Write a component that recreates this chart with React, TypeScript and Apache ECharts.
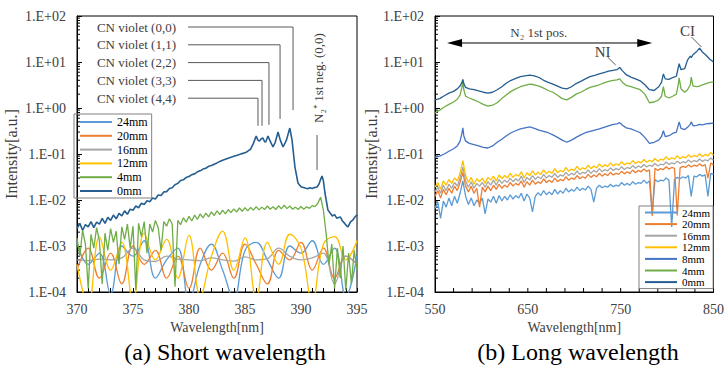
import React, { useEffect, useRef } from "react";
import * as echarts from "echarts";

// ---------- DATA ----------
const SHORT_LEGEND = ["24mm", "20mm", "16mm", "12mm", "4mm", "0mm"];
const LONG_LEGEND = ["24mm", "20mm", "16mm", "12mm", "8mm", "4mm", "0mm"];
const COLORS: Record<string, string> = {
  "24mm": "#5B9BD5",
  "20mm": "#ED7D31",
  "16mm": "#A5A5A5",
  "12mm": "#FFC000",
  "8mm": "#4472C4",
  "4mm": "#70AD47",
  "0mm": "#255E91",
};

const grid = (start: number, step: number, n: number) =>
  Array.from({ length: n }, (_, i) => +(start + i * step).toFixed(3));

// Short wavelength panel (a)
const SHORT_X_FINE = grid(370, 0.25, 101); // 370..395
const SHORT_X_SPARSE = grid(370, 1, 26); // 370..395
const SHORT_0MM_X = [
  ...grid(370, 0.25, 61),
  385.25, 385.5, 385.75, 386.0, 386.15, 386.3, 386.45, 386.6, 386.75, 386.85, 387.05, 387.25, 387.5, 387.7,
  387.95, 388.15, 388.4, 388.7, 389.0, 389.2, 389.46, 389.73, 390.0, 390.36, 390.6, 390.8, 391.0, 391.2,
  391.43, 391.6, 391.75, 391.88, 392.0, 392.14, 392.3, 392.4, 392.6, 392.8, 393.0, 393.2, 393.5, 393.7,
  393.9, 394.1, 394.2, 394.4, 394.64, 394.8, 395.0,
];
const SHORT_0MM = [
  0.0024, 0.0031, 0.0022, 0.0029, 0.0026, 0.0034, 0.0025, 0.0033, 0.003, 0.004, 0.0031, 0.0042, 0.0036, 0.0047,
  0.0039, 0.0051, 0.0045, 0.0058, 0.0049, 0.0063, 0.006, 0.0074, 0.0068, 0.0085, 0.008, 0.0096, 0.0092, 0.011,
  0.0105, 0.0128, 0.0125, 0.015, 0.0152, 0.0178, 0.0185, 0.0215, 0.023, 0.0265, 0.0275, 0.031, 0.0325, 0.0355,
  0.037, 0.041, 0.043, 0.047, 0.049, 0.054, 0.056, 0.06, 0.064, 0.069, 0.073, 0.077, 0.081, 0.085, 0.089, 0.093,
  0.097, 0.102, 0.106,
  0.115, 0.128, 0.17, 0.246, 0.2, 0.192, 0.215, 0.223, 0.185, 0.182, 0.246, 0.19, 0.142, 0.18,
  0.301, 0.2, 0.142, 0.2, 0.367, 0.2, 0.052, 0.0234, 0.0195, 0.0182, 0.0176, 0.0185, 0.0178, 0.0186,
  0.0192, 0.022, 0.028, 0.0333, 0.026, 0.0142, 0.0085, 0.0061, 0.0052, 0.0045, 0.0048, 0.004, 0.0043, 0.0035,
  0.0031, 0.0027, 0.0026, 0.0033, 0.0037, 0.0042, 0.0048,
];
const SHORT_4MM = [
  0.0015, 0.0006, 0.0022, 0.0011, 0.00012, 0.0018, 0.0009, 0.0025, 0.0013, 0.00015, 0.0019, 0.0008, 0.0024,
  0.0012, 0.0021, 0.0004, 0.0026, 0.0014, 0.003, 0.0009, 0.0027, 0.00011, 0.0031, 0.0016, 0.0034, 0.0007,
  0.003, 0.002, 0.0036, 0.0025, 0.0008, 0.0034, 0.0027, 0.0039, 0.003, 0.00013, 0.0036, 0.0029, 0.0041,
  0.0033, 0.0044, 0.0035, 0.0047, 0.0038, 0.005, 0.0041, 0.0052, 0.0043, 0.0055, 0.0046, 0.0058, 0.0048,
  0.006, 0.005, 0.0062, 0.0053, 0.0064, 0.0055, 0.0067, 0.0057, 0.0068, 0.0058, 0.0069, 0.006, 0.0072,
  0.0061, 0.007, 0.0062, 0.0074, 0.0063, 0.0071, 0.0062, 0.0075, 0.0064, 0.0077, 0.0065, 0.0074, 0.0063,
  0.007, 0.0062, 0.0072, 0.0063, 0.0071, 0.0066, 0.0075, 0.0072, 0.0085, 0.0115, 0.006, 0.0018, 0.0004,
  0.0011, 0.00012, 0.0009, 0.0002, 0.001, 0.00011, 0.0007, 0.00015, 0.0008, 0.0003,
];
const SHORT_12MM = [
  0.0004, 0.00005, 0.0016, 0.0003, 0.0012, 0.00006, 0.0019, 0.0005, 0.0014, 0.0002, 0.0017, 0.00008, 0.0006,
  0.0021, 0.0003, 0.0015, 0.00007, 0.0012, 0.0004, 0.0018, 0.0009, 0.00006, 0.0011, 0.0016, 0.0005, 0.0013,
];
const SHORT_20MM = [
  0.0003, 0.0009, 0.0002, 0.0007, 0.00015, 0.001, 0.0004, 0.0008, 0.0002, 0.0006, 0.00012, 0.0009, 0.0003,
  0.0007, 0.0002, 0.0011, 0.0004, 0.00015, 0.0008, 0.0005, 0.0012, 0.0003, 0.0009, 0.0002, 0.0006, 0.0004,
];
const SHORT_16MM = [
  0.0005, 0.00048, 0.00052, 0.0005, 0.00055, 0.0009, 0.0005, 0.00046, 0.0006, 0.00052, 0.0005, 0.00048,
  0.00055, 0.0005, 0.00047, 0.00058, 0.0005, 0.00053, 0.0009, 0.0006, 0.0005, 0.00055, 0.0007, 0.00015,
  0.0006, 0.0004,
];
const SHORT_24MM = [
  0.0012, 0.0004, 0.0007, 0.00009, 0.001, 0.0006, 0.0013, 0.0002, 0.0005, 0.0009, 0.00006, 0.0004, 0.0011,
  0.0003, 0.00007, 0.0008, 0.0012, 0.0005, 0.0002, 0.001, 0.0007, 0.0013, 0.0004, 0.0009, 0.00008, 0.0006,
];

// Long wavelength panel (b)
const LONG_X_NOISY = grid(550, 3, 101); // 550..850
const LONG_X_SMOOTH = [
  550, 555, 560, 565, 570, 574, 577, 579, 580, 581, 583, 587, 592, 597, 602, 607, 612, 617, 622, 627, 632, 637,
  642, 647, 652, 657, 662, 667, 672, 677, 682, 687, 692, 697, 702, 707, 712, 717, 722, 727, 732, 737, 742, 746,
  749, 752, 756, 761, 766, 771, 776, 781, 786, 791, 794, 796, 798, 802, 806, 810, 812, 813, 815, 819, 822, 825,
  826, 828, 832, 835, 838, 842, 846, 850,
];
const LONG_0MM = [
  1.5, 1.6, 1.85, 2.1, 2.3, 2.6, 3.0, 3.6, 4.2, 3.4, 2.8, 2.6, 2.5, 2.35, 2.2, 2.1, 2.2, 2.5, 2.9, 3.5, 4.0, 4.4,
  4.8, 5.0, 5.2, 5.0, 4.6, 4.0, 3.6, 3.3, 3.0, 2.7, 2.6, 2.9, 3.4, 3.8, 4.3, 4.8, 5.1, 5.5, 5.9, 6.3, 6.6, 6.8,
  7.6, 6.4, 5.3, 4.7, 4.3, 3.9, 3.2, 2.5, 2.4, 2.9, 3.6, 5.5, 4.3, 4.2, 4.6, 4.9, 7.5, 9.2, 6.8, 7.2, 11, 13.5,
  12.5, 14.5, 17, 20, 16.5, 14, 11.5, 10,
];
const LONG_4MM = [
  0.78, 0.9, 1.05, 1.2, 1.35, 1.55, 1.9, 2.8, 3.9, 2.5, 1.8, 1.65, 1.5, 1.35, 1.2, 1.1, 1.15, 1.3, 1.6, 1.95,
  2.3, 2.6, 2.9, 3.1, 3.3, 3.2, 3.0, 2.7, 2.4, 2.2, 1.9, 1.6, 1.5, 1.7, 2.0, 2.2, 2.5, 2.8, 3.0, 3.2, 3.5, 3.8,
  4.0, 4.1, 4.3, 3.6, 3.1, 2.9, 2.7, 2.5, 2.0, 1.3, 1.35, 1.5, 1.8, 2.9, 1.8, 1.65, 1.8, 2.0, 3.2, 4.5, 2.6,
  2.2, 2.5, 3.2, 4.7, 3.0, 2.9, 3.0, 3.2, 3.4, 3.6, 3.7,
];
const LONG_8MM = [
  0.085, 0.09, 0.1, 0.115, 0.13, 0.15, 0.19, 0.28, 0.37, 0.25, 0.19, 0.17, 0.16, 0.15, 0.14, 0.135, 0.15, 0.18,
  0.21, 0.25, 0.29, 0.32, 0.35, 0.37, 0.39, 0.36, 0.33, 0.31, 0.29, 0.26, 0.23, 0.2, 0.18, 0.2, 0.23, 0.26,
  0.29, 0.31, 0.33, 0.35, 0.38, 0.41, 0.44, 0.45, 0.48, 0.42, 0.37, 0.35, 0.32, 0.29, 0.23, 0.17, 0.18, 0.2,
  0.24, 0.32, 0.24, 0.25, 0.28, 0.3, 0.42, 0.5, 0.36, 0.34, 0.38, 0.44, 0.5, 0.41, 0.42, 0.44, 0.43, 0.45,
  0.46, 0.47,
];
const LONG_12MM = [
  0.019, 0.024, 0.017, 0.026, 0.021, 0.028, 0.023, 0.03, 0.026, 0.038, 0.072, 0.034, 0.024, 0.031, 0.022,
  0.029, 0.025, 0.03, 0.023, 0.031, 0.027, 0.033, 0.026, 0.035, 0.029, 0.034, 0.03, 0.038, 0.031, 0.036,
  0.033, 0.041, 0.03, 0.039, 0.034, 0.043, 0.035, 0.04, 0.036, 0.045, 0.037, 0.042, 0.038, 0.048, 0.039,
  0.044, 0.041, 0.051, 0.042, 0.047, 0.044, 0.054, 0.045, 0.05, 0.047, 0.057, 0.048, 0.055, 0.05, 0.061,
  0.052, 0.058, 0.054, 0.064, 0.055, 0.061, 0.057, 0.068, 0.058, 0.064, 0.06, 0.072, 0.062, 0.069, 0.064,
  0.076, 0.066, 0.073, 0.068, 0.08, 0.069, 0.077, 0.074, 0.088, 0.075, 0.083, 0.077, 0.092, 0.079, 0.088,
  0.082, 0.096, 0.085, 0.093, 0.087, 0.102, 0.088, 0.098, 0.091, 0.108, 0.094,
];
const LONG_16MM = [
  0.015, 0.019, 0.014, 0.021, 0.016, 0.022, 0.018, 0.024, 0.02, 0.03, 0.052, 0.026, 0.019, 0.025, 0.018,
  0.023, 0.02, 0.024, 0.019, 0.025, 0.021, 0.027, 0.021, 0.028, 0.023, 0.027, 0.024, 0.03, 0.025, 0.029,
  0.026, 0.033, 0.024, 0.031, 0.027, 0.034, 0.028, 0.032, 0.029, 0.036, 0.03, 0.034, 0.031, 0.038, 0.031,
  0.035, 0.033, 0.04, 0.034, 0.038, 0.035, 0.043, 0.036, 0.04, 0.038, 0.045, 0.038, 0.044, 0.04, 0.048,
  0.041, 0.046, 0.043, 0.05, 0.044, 0.048, 0.045, 0.053, 0.046, 0.051, 0.048, 0.056, 0.049, 0.055, 0.051,
  0.059, 0.052, 0.057, 0.054, 0.062, 0.055, 0.06, 0.058, 0.067, 0.059, 0.064, 0.061, 0.07, 0.062, 0.068,
  0.064, 0.074, 0.066, 0.072, 0.068, 0.078, 0.069, 0.075, 0.071, 0.082, 0.073,
];
const LONG_20MM = [
  0.012, 0.016, 0.011, 0.017, 0.013, 0.018, 0.014, 0.02, 0.016, 0.024, 0.04, 0.02, 0.015, 0.02, 0.014, 0.018,
  0.007, 0.019, 0.015, 0.02, 0.016, 0.021, 0.017, 0.022, 0.018, 0.021, 0.019, 0.024, 0.02, 0.023, 0.021,
  0.026, 0.019, 0.025, 0.021, 0.027, 0.022, 0.025, 0.023, 0.029, 0.024, 0.027, 0.024, 0.03, 0.025, 0.028,
  0.026, 0.032, 0.027, 0.03, 0.028, 0.034, 0.029, 0.032, 0.03, 0.036, 0.031, 0.035, 0.032, 0.038, 0.033,
  0.037, 0.034, 0.04, 0.035, 0.038, 0.036, 0.042, 0.037, 0.041, 0.038, 0.045, 0.039, 0.044, 0.041, 0.047,
  0.042, 0.045, 0.0045, 0.049, 0.044, 0.048, 0.046, 0.053, 0.047, 0.051, 0.049, 0.0046, 0.05, 0.054, 0.051,
  0.058, 0.052, 0.057, 0.054, 0.061, 0.055, 0.059, 0.03, 0.064, 0.058,
];
const LONG_24MM = [
  0.0065, 0.009, 0.004, 0.0095, 0.007, 0.011, 0.0075, 0.012, 0.0085, 0.014, 0.026, 0.012, 0.008, 0.011,
  0.0075, 0.01, 0.0085, 0.011, 0.005, 0.0105, 0.009, 0.012, 0.0085, 0.0125, 0.0095, 0.012, 0.01, 0.013,
  0.0105, 0.0125, 0.011, 0.014, 0.0095, 0.0135, 0.011, 0.0055, 0.012, 0.0145, 0.0125, 0.016, 0.013, 0.015,
  0.013, 0.017, 0.0135, 0.016, 0.014, 0.018, 0.015, 0.017, 0.0155, 0.019, 0.016, 0.018, 0.0165, 0.02, 0.017,
  0.009, 0.018, 0.021, 0.0185, 0.02, 0.019, 0.022, 0.0195, 0.021, 0.02, 0.024, 0.021, 0.023, 0.021, 0.025,
  0.022, 0.024, 0.023, 0.027, 0.023, 0.026, 0.005, 0.028, 0.025, 0.027, 0.026, 0.03, 0.027, 0.0026, 0.028,
  0.031, 0.029, 0.032, 0.03, 0.034, 0.012, 0.033, 0.032, 0.036, 0.033, 0.035, 0.012, 0.038, 0.036,
];

// Axes
const SHORT_RANGE = [370, 395];
const LONG_RANGE = [550, 850];
const Y_RANGE = [1e-4, 100];
const LONG_MINOR_X = grid(570, 20, 14); // tick marks every 20 nm
const Y_MINOR = [-4, -3, -2, -1, 0, 1].flatMap((k) => [2, 3, 4, 5, 6, 7, 8, 9].map((m) => m * Math.pow(10, k)));

// Annotations
const CN_LABELS = ["CN violet (0,0)", "CN violet (1,1)", "CN violet (2,2)", "CN violet (3,3)", "CN violet (4,4)"];
const CN_NM = [389.29, 388.13, 387.14, 386.52, 386.16];
const CN_END = [0.9, 0.58, 0.43, 0.41, 0.41];
const N2P_NM = 391.43;
const N2P_LINE = [0.259, 0.045];

// ---------- CHART ----------
const FONT = "Liberation Serif";
const pairs = (xs: number[], ys: number[]) => xs.map((x, i) => [x, ys[i]]);

function lineSeries(name: string, gi: number, xs: number[], ys: number[], extra: any = {}) {
  return {
    type: "line",
    name,
    xAxisIndex: gi,
    yAxisIndex: gi,
    data: pairs(xs, ys),
    symbol: "none",
    showSymbol: false,
    clip: true,
    silent: true,
    lineStyle: { color: COLORS[name], width: 1.3 },
    itemStyle: { color: COLORS[name] },
    ...extra,
  };
}

function yTickSeries(gi: number, xMin: number) {
  return {
    type: "custom",
    xAxisIndex: gi,
    yAxisIndex: gi,
    silent: true,
    data: Y_MINOR.map((v) => [xMin, v]),
    renderItem: (_p: any, api: any) => {
      const p = api.coord([api.value(0), api.value(1)]);
      return {
        type: "line",
        shape: { x1: p[0], y1: p[1], x2: p[0] + 3, y2: p[1] },
        style: { stroke: "#000", lineWidth: 1 },
      };
    },
  };
}

function yAxis(gi: number, gap: number) {
  return {
    type: "log",
    logBase: 10,
    gridIndex: gi,
    min: Y_RANGE[0],
    max: Y_RANGE[1],
    name: "Intensity[a.u.]",
    nameLocation: "middle",
    nameGap: gap,
    nameTextStyle: { fontFamily: FONT, fontSize: 16, color: "#404040" },
    axisLine: { show: true, lineStyle: { color: "#000", width: 1 } },
    axisTick: { show: true, inside: true, length: 5, lineStyle: { color: "#000" } },
    splitLine: { show: false },
    axisLabel: {
      fontFamily: FONT,
      fontSize: 14,
      color: "#404040",
      margin: 11,
      formatter: (v: number) => {
        const e = Math.round(Math.log10(v));
        return `1.E${e >= 0 ? "+" : "-"}${String(Math.abs(e)).padStart(2, "0")}`;
      },
    },
  };
}

export default function App() {
  const ref = useRef<HTMLDivElement>(null);
  useEffect(() => {
    if (!ref.current) return;
    const chart = echarts.init(ref.current, null, { renderer: "svg" });
    const legendCommon = {
      orient: "vertical",
      selectedMode: false,
      itemWidth: 32,
      icon: "rect",
      borderColor: "#808080",
      borderWidth: 1,
      backgroundColor: "transparent",
    };
    chart.setOption({
      animation: false,
      textStyle: { fontFamily: FONT },
      grid: [
        { left: 77, top: 16, width: 280, height: 276, show: true, borderColor: "#000", borderWidth: 1 },
        { left: 435, top: 16, width: 279, height: 276, show: true, borderColor: "#000", borderWidth: 1 },
      ],
      xAxis: [
        {
          type: "value",
          gridIndex: 0,
          min: SHORT_RANGE[0],
          max: SHORT_RANGE[1],
          interval: 5,
          name: "Wavelength[nm]",
          nameLocation: "middle",
          nameGap: 23,
          nameTextStyle: { fontFamily: FONT, fontSize: 14, color: "#404040" },
          axisLine: { lineStyle: { color: "#000" } },
          axisTick: { inside: true, length: 4, lineStyle: { color: "#000" } },
          minorTick: { show: true, splitNumber: 5, length: 4, lineStyle: { color: "#000" } },
          splitLine: { show: false },
          axisLabel: { fontFamily: FONT, fontSize: 14, color: "#404040", margin: 10 },
        },
        {
          type: "value",
          gridIndex: 1,
          min: LONG_RANGE[0],
          max: LONG_RANGE[1],
          interval: 50,
          name: "Wavelength[nm]",
          nameLocation: "middle",
          nameGap: 23,
          nameTextStyle: { fontFamily: FONT, fontSize: 14, color: "#404040" },
          axisLine: { lineStyle: { color: "#000" } },
          axisTick: { show: false },
          splitLine: { show: false },
          axisLabel: {
            fontFamily: FONT,
            fontSize: 14,
            color: "#404040",
            margin: 10,
            formatter: (v: number) => ((v - LONG_RANGE[0]) % 100 === 0 ? String(v) : ""),
          },
        },
      ],
      yAxis: [yAxis(0, 58), yAxis(1, 53)],
      legend: [
        {
          ...legendCommon,
          data: SHORT_LEGEND,
          left: 74,
          top: 114,
          padding: [2, 4, 1, 6],
          itemHeight: 2,
          itemGap: 1.8,
          textStyle: { fontFamily: FONT, fontSize: 12, color: "#000" },
        },
        {
          ...legendCommon,
          data: LONG_LEGEND,
          left: 639,
          top: 206,
          padding: [1, 3, 1, 6],
          itemHeight: 2,
          itemGap: 0.6,
          textStyle: { fontFamily: FONT, fontSize: 11, color: "#000" },
        },
      ],
      series: [
        lineSeries("24mm", 0, SHORT_X_SPARSE, SHORT_24MM, { smooth: 0.4 }),
        lineSeries("20mm", 0, SHORT_X_SPARSE, SHORT_20MM, { smooth: 0.4 }),
        lineSeries("16mm", 0, SHORT_X_SPARSE, SHORT_16MM, { smooth: 0.4 }),
        lineSeries("12mm", 0, SHORT_X_SPARSE, SHORT_12MM, { smooth: 0.4 }),
        lineSeries("4mm", 0, SHORT_X_FINE, SHORT_4MM),
        lineSeries("0mm", 0, SHORT_0MM_X, SHORT_0MM, { lineStyle: { color: COLORS["0mm"], width: 1.6 } }),
        lineSeries("24mm", 1, LONG_X_NOISY, LONG_24MM),
        lineSeries("20mm", 1, LONG_X_NOISY, LONG_20MM),
        lineSeries("16mm", 1, LONG_X_NOISY, LONG_16MM),
        lineSeries("12mm", 1, LONG_X_NOISY, LONG_12MM),
        lineSeries("8mm", 1, LONG_X_SMOOTH, LONG_8MM),
        lineSeries("4mm", 1, LONG_X_SMOOTH, LONG_4MM),
        lineSeries("0mm", 1, LONG_X_SMOOTH, LONG_0MM),
        yTickSeries(0, SHORT_RANGE[0]),
        yTickSeries(1, LONG_RANGE[0]),
        {
          type: "custom",
          xAxisIndex: 1,
          yAxisIndex: 1,
          silent: true,
          data: LONG_MINOR_X.map((x) => [x, Y_RANGE[0]]),
          renderItem: (_p: any, api: any) => {
            const p = api.coord([api.value(0), api.value(1)]);
            return {
              type: "line",
              shape: { x1: p[0], y1: p[1], x2: p[0], y2: p[1] - 4 },
              style: { stroke: "#000", lineWidth: 1 },
            };
          },
        },
      ],
    });

    const P = (g: number, x: number, y: number) =>
      chart.convertToPixel({ xAxisIndex: g, yAxisIndex: g } as any, [x, y]) as unknown as number[];
    const txt = (
      text: string,
      x: number,
      y: number,
      size: number,
      align = "left",
      extra: any = {},
      fill = "#404040"
    ) => ({
      type: "text",
      x,
      y,
      silent: true,
      ...extra,
      style: {
        text,
        fontSize: size,
        fontFamily: FONT,
        fill,
        align,
        verticalAlign: "middle",
        textAlign: align,
        textVerticalAlign: "middle",
      },
    });
    const graphics: any[] = [];
    CN_LABELS.forEach((label, i) => {
      const ty = 27 + i * 17.8;
      graphics.push(txt(label, 176, ty, 13, "right"));
      const [vx, vy] = P(0, CN_NM[i], CN_END[i]);
      graphics.push({
        type: "polyline",
        silent: true,
        shape: { points: [[188, ty], [vx, ty], [vx, vy]] },
        style: { stroke: "#595959", lineWidth: 1, fill: "none" },
      });
    });
    const n2a = P(0, N2P_NM, N2P_LINE[0]);
    const n2b = P(0, N2P_NM, N2P_LINE[1]);
    graphics.push({
      type: "line",
      silent: true,
      shape: { x1: n2a[0], y1: n2a[1], x2: n2b[0], y2: n2b[1] },
      style: { stroke: "#595959", lineWidth: 1 },
    });
    graphics.push(txt("N\u2082\u207A 1st neg. (0,0)", n2a[0] + 1, 78, 13, "center", { rotation: Math.PI / 2 }));

    // right panel annotations
    const aL = P(1, 563, 25.9);
    const aR = P(1, 784, 25.9);
    graphics.push({
      type: "line",
      silent: true,
      shape: { x1: aL[0] + 14, y1: aL[1], x2: aR[0] - 14, y2: aR[1] },
      style: { stroke: "#000", lineWidth: 1 },
    });
    graphics.push({
      type: "polygon",
      silent: true,
      shape: { points: [[aL[0], aL[1]], [aL[0] + 15, aL[1] - 4], [aL[0] + 15, aL[1] + 4]] },
      style: { fill: "#000" },
    });
    graphics.push({
      type: "polygon",
      silent: true,
      shape: { points: [[aR[0], aR[1]], [aR[0] - 15, aR[1] - 4], [aR[0] - 15, aR[1] + 4]] },
      style: { fill: "#000" },
    });
    const tN2 = P(1, 661.8, 25.9);
    graphics.push(txt("N\u2082 1st pos.", tN2[0], aL[1] - 10, 13, "center"));
    const ni1 = P(1, 736, 12.8);
    const ni2 = P(1, 744.6, 8.6);
    graphics.push({
      type: "line",
      silent: true,
      shape: { x1: ni1[0], y1: ni1[1], x2: ni2[0], y2: ni2[1] },
      style: { stroke: "#595959", lineWidth: 1 },
    });
    graphics.push(txt("NI", ni1[0] - 5, ni1[1] - 5, 15, "center"));
    const ci1 = P(1, 826.3, 34.9);
    const ci2 = P(1, 837, 21.2);
    graphics.push({
      type: "line",
      silent: true,
      shape: { x1: ci1[0], y1: ci1[1], x2: ci2[0], y2: ci2[1] },
      style: { stroke: "#595959", lineWidth: 1 },
    });
    graphics.push(txt("CI", ci1[0] - 4, ci1[1] - 6, 15, "center"));

    // captions
    graphics.push(txt("(a) Short wavelength", 225, 352, 24, "center", {}, "#000"));
    graphics.push(txt("(b) Long wavelength", 578, 352, 24, "center", {}, "#000"));

    chart.setOption({ graphic: graphics });
    return () => chart.dispose();
  }, []);
  return (
    <div
      ref={ref}
      style={{ position: "fixed", left: 0, top: 0, width: 727, height: 365, background: "#fff" }}
    />
  );
}
